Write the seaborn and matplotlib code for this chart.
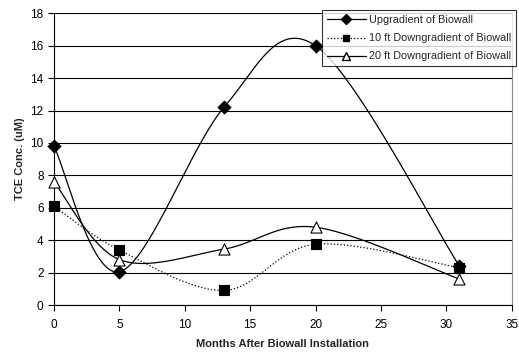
import numpy as np
import pandas as pd
import matplotlib
matplotlib.use("Agg")
import matplotlib.pyplot as plt
from matplotlib.lines import Line2D
import seaborn as sns

# sampling times (months) and TCE concentrations (uM)
months = [0, 5, 13, 20, 31]
upgradient = [9.8, 2.05, 12.2, 16.0, 2.4]
down_10ft = [6.1, 3.4, 0.9, 3.75, 2.3]
down_20ft = [7.6, 2.8, 3.45, 4.8, 1.6]

series_names = ["Upgradient of Biowall",
                "10 ft Downgradient of Biowall",
                "20 ft Downgradient of Biowall"]


def smooth(xs, ys, n=40):
    # Excel-style smoothed line: cubic Bezier through the points
    p = np.column_stack([xs, ys]).astype(float)
    out = []
    for i in range(len(p) - 1):
        p0 = p[i - 1] if i > 0 else p[i]
        p1, p2 = p[i], p[i + 1]
        p3 = p[i + 2] if i + 2 < len(p) else p[i + 1]
        c1 = p1 + (p2 - p0) / 6
        c2 = p2 - (p3 - p1) / 6
        t = np.linspace(0, 1, n)[:, None]
        seg = ((1 - t) ** 3) * p1 + 3 * ((1 - t) ** 2) * t * c1 \
            + 3 * (1 - t) * t ** 2 * c2 + t ** 3 * p2
        out.append(seg if i == 0 else seg[1:])
    s = np.vstack(out)
    return s[:, 0], s[:, 1]


sns.set_style("white")
plt.rcParams["font.family"] = ["Liberation Sans", "DejaVu Sans"]

fig, ax = plt.subplots(figsize=(5.19, 3.58), dpi=100)
fig.subplots_adjust(left=0.104, right=0.986, top=0.963, bottom=0.148)

styles = [
    dict(ls="-", marker="D", mfc="black", ms=6.5),
    dict(ls=":", marker="s", mfc="black", ms=6.5),
    dict(ls="-", marker="^", mfc="white", ms=8),
]
handles = []
for name, vals, st in zip(series_names, [upgradient, down_10ft, down_20ft], styles):
    sx, sy = smooth(months, vals)
    curve = pd.DataFrame({"x": sx, "y": sy})
    sns.lineplot(data=curve, x="x", y="y", ax=ax, sort=False, color="black",
                 lw=0.9, linestyle=st["ls"], legend=False)
    pts = pd.DataFrame({"x": months, "y": vals})
    sns.scatterplot(data=pts, x="x", y="y", ax=ax, marker=st["marker"],
                    s=st["ms"] ** 2, color=st["mfc"], edgecolor="black",
                    linewidth=0.8, zorder=5, legend=False, clip_on=False)
    handles.append(Line2D([], [], color="black", lw=0.9, ls=st["ls"],
                          marker=st["marker"], mfc=st["mfc"], mec="black",
                          ms=st["ms"] * 0.75))

ax.set_xlim(0, 35)
ax.set_ylim(0, 18)
ax.set_xticks(range(0, 36, 5))
ax.set_yticks(range(0, 19, 2))
ax.yaxis.grid(True, color="black", lw=0.8)
ax.tick_params(axis="both", direction="out", length=4, width=0.8,
               labelsize=8.5, colors="black", bottom=True, left=True)
ax.tick_params(axis="x", pad=6)
for sp in ax.spines.values():
    sp.set_color("black")
    sp.set_linewidth(0.8)
ax.spines["top"].set_visible(False)
ax.spines["right"].set_color("#888888")

ax.set_xlabel("Months After Biowall Installation", fontsize=8, fontweight="bold",
              labelpad=6)
ax.set_ylabel("TCE Conc. (uM)", fontsize=8, fontweight="bold", labelpad=4)

leg = ax.legend(handles, series_names, loc="upper right",
                bbox_to_anchor=(1.01, 1.01), fontsize=7.8, frameon=True,
                fancybox=False, handlelength=3.6, handletextpad=0.3,
                borderpad=0.45, labelspacing=0.75, borderaxespad=0)
leg.get_frame().set_edgecolor("black")
leg.get_frame().set_linewidth(0.8)
leg.set_zorder(10)

fig.savefig("out.png", dpi=100)
